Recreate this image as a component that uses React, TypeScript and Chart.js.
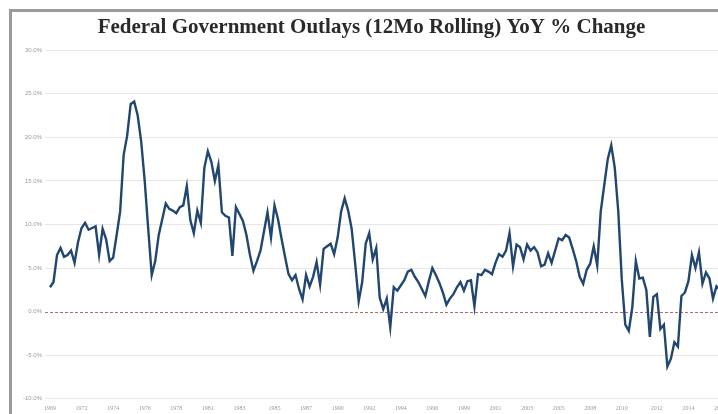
import React, { useEffect, useRef } from "react";
import { Chart, registerables } from "chart.js";

Chart.register(...registerables);

// Quarterly samples of YoY % change (12-month rolling federal outlays), starting late 1969
const outlaysYoY: number[] = [
  2.8, 3.4, 6.5, 7.3, 6.3, 6.5, 7.0, 5.6, 8.0, 9.6,
  10.2, 9.4, 9.6, 9.8, 6.5, 9.5, 8.3, 5.8, 6.2, 8.8,
  11.5, 18.0, 20.2, 23.8, 24.1, 22.5, 19.5, 15.0, 9.5, 4.2,
  5.8, 8.8, 10.6, 12.4, 11.8, 11.6, 11.3, 12.0, 12.2, 14.4,
  10.5, 9.0, 11.6, 10.2, 16.5, 18.4, 17.2, 15.0, 16.8, 11.4,
  11.0, 10.8, 6.4, 12.0, 11.2, 10.4, 8.8, 6.5, 4.7, 5.8,
  7.0, 9.2, 11.4, 8.5, 12.2, 10.6, 8.4, 6.3, 4.3, 3.6,
  4.2, 2.6, 1.4, 4.2, 2.9, 4.0, 5.7, 3.1, 7.2, 7.5,
  7.8, 6.6, 8.5, 11.5, 13.0, 11.6, 9.5, 5.5, 1.2, 3.4,
  7.8, 9.0, 6.0, 7.3, 1.6, 0.3, 1.5, -1.8, 2.8, 2.4,
  3.0, 3.6, 4.6, 4.8, 4.0, 3.4, 2.6, 1.8, 3.5, 5.0,
  4.2, 3.3, 2.2, 0.8, 1.5, 2.0, 2.8, 3.4, 2.4, 3.5,
  3.6, 0.6, 4.3, 4.2, 4.8, 4.6, 4.3, 5.6, 6.6, 6.3,
  7.0, 9.0, 5.2, 7.7, 7.4, 6.0, 7.7, 7.0, 7.4, 6.8,
  5.2, 5.4, 6.7, 5.6, 7.0, 8.4, 8.2, 8.8, 8.5, 7.2,
  5.8, 4.0, 3.2, 4.8, 5.5, 7.5, 5.3, 11.5, 14.5, 17.5,
  19.1, 16.5, 11.5, 3.7, -1.5, -2.2, 0.5, 5.8, 3.8, 3.9,
  2.5, -2.9, 1.7, 2.0, -2.0, -1.5, -6.3, -5.4, -3.5, -4.0,
  1.8, 2.2, 3.5, 6.5, 5.0, 6.8, 3.2, 4.5, 3.8, 1.5,
  2.9, 2.5,
];

const tickYears: string[] = [
  "1969", "1972", "1974", "1976", "1978", "1981", "1983", "1985", "1987", "1990", "1992",
  "1994", "1996", "1999", "2001", "2003", "2005", "2008", "2010", "2012", "2014", "2017",
];

const yTickValues: number[] = [-10, -5, 0, 5, 10, 15, 20, 25, 30];

const titleText = "Federal Government Outlays (12Mo Rolling) YoY % Change";

const LABEL_STEP = 9.08;

const zeroLinePlugin = {
  id: "zeroLine",
  beforeDatasetsDraw(chart: any) {
    const y = chart.scales.y;
    const area = chart.chartArea;
    const py = Math.round(y.getPixelForValue(0)) + 0.5;
    const ctx = chart.ctx;
    ctx.save();
    ctx.strokeStyle = "#b86a6a";
    ctx.lineWidth = 1;
    ctx.setLineDash([3, 2]);
    ctx.beginPath();
    ctx.moveTo(area.left - 5, py);
    ctx.lineTo(area.right, py);
    ctx.stroke();
    ctx.restore();
  },
};

export default function App() {
  const ref = useRef<HTMLCanvasElement | null>(null);

  useEffect(() => {
    if (!ref.current) return;
    const labels = outlaysYoY.map((_, i) => String(i));
    const chart = new Chart(ref.current, {
      type: "line",
      data: {
        labels,
        datasets: [
          {
            data: outlaysYoY,
            borderColor: "#21466f",
            borderWidth: 2.4,
            pointRadius: 0,
            tension: 0,
            fill: false,
          },
        ],
      },
      options: {
        animation: false,
        responsive: false,
        maintainAspectRatio: false,
        layout: { padding: { left: 10, right: 11, top: 0, bottom: 0 } },
        plugins: {
          legend: { display: false },
          tooltip: { enabled: false },
          title: {
            display: true,
            text: titleText,
            color: "#2a2a2a",
            font: { family: "'Liberation Serif', serif", size: 21, weight: "bold" },
            padding: { top: 3, bottom: 10 },
          },
        },
        scales: {
          x: {
            type: "category",
            grid: { display: false, drawTicks: false },
            border: { display: false },
            ticks: {
              autoSkip: false,
              maxRotation: 0,
              minRotation: 0,
              padding: 6,
              color: "#9a9a9a",
              font: { family: "'Liberation Serif', serif", size: 6 },
              callback: (_v: any, index: number) => {
                const k = Math.round(index / LABEL_STEP);
                if (k < tickYears.length && Math.round(k * LABEL_STEP) === index) return tickYears[k];
                return null;
              },
            },
          },
          y: {
            min: -10,
            max: 30,
            afterFit: (scale: any) => {
              scale.width = 28;
            },
            afterBuildTicks: (scale: any) => {
              scale.ticks = yTickValues.map((v) => ({ value: v }));
            },
            grid: {
              color: (ctx: any) => (ctx.tick && ctx.tick.value === 0 ? "rgba(0,0,0,0)" : "#e6e6e6"),
              lineWidth: 1,
              tickLength: 5,
              tickColor: (ctx: any) => (ctx.tick && ctx.tick.value === 0 ? "rgba(0,0,0,0)" : "#e6e6e6"),
            },
            border: { display: false },
            ticks: {
              padding: 3,
              color: "#9a9a9a",
              font: { family: "'Liberation Sans', sans-serif", size: 6 },
              callback: (v: any) => Number(v).toFixed(1) + "%",
            },
          },
        },
      },
      plugins: [zeroLinePlugin],
    });
    return () => chart.destroy();
  }, []);

  return (
    <div
      style={{
        position: "fixed",
        left: 0,
        top: 0,
        width: 718,
        height: 414,
        overflow: "hidden",
        background: "#ffffff",
      }}
    >
      <div
        style={{
          position: "absolute",
          left: 9,
          top: 9,
          width: 720,
          height: 406,
          border: "3px solid #9a9a9a",
          background: "#ffffff",
        }}
      >
        <canvas ref={ref} width={720} height={406} style={{ display: "block", width: 720, height: 406 }} />
      </div>
    </div>
  );
}
